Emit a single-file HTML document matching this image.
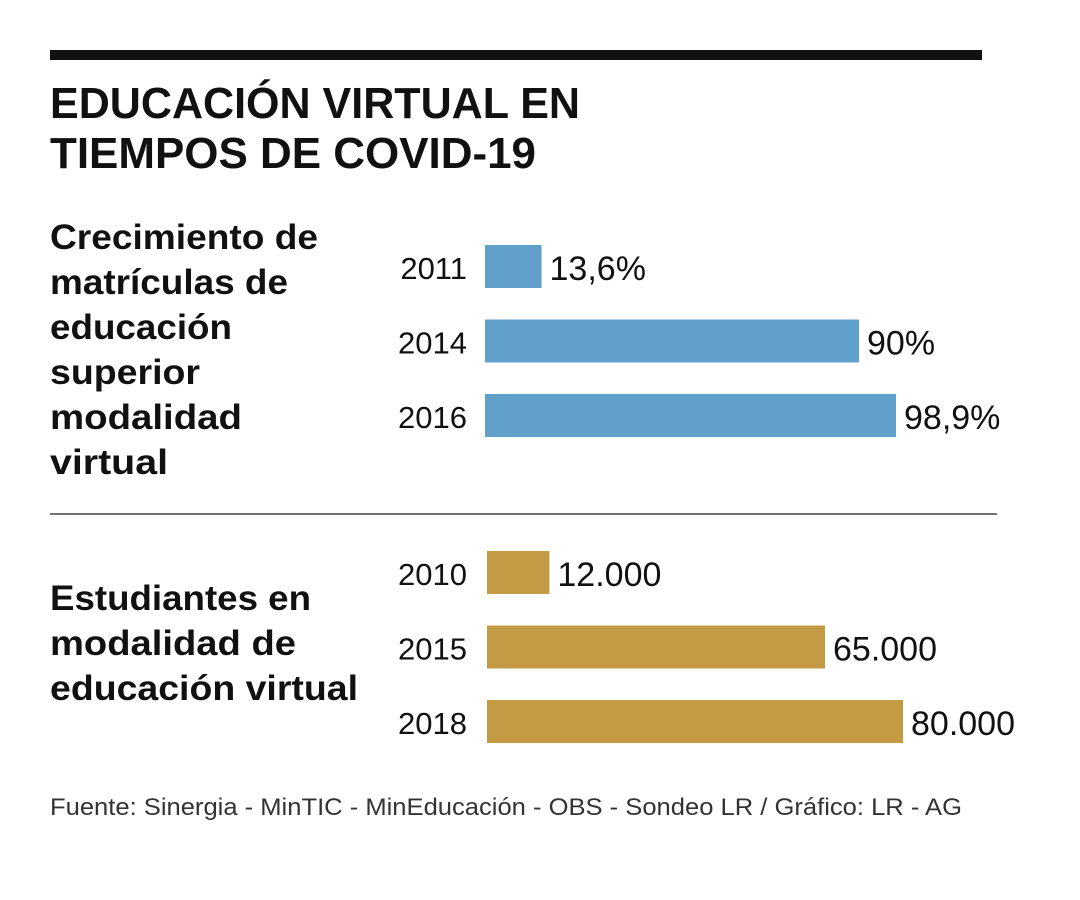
<!DOCTYPE html>
<html><head><meta charset="utf-8"><style>
html,body{margin:0;padding:0;background:#fff;}
svg{display:block;font-family:"Liberation Sans",sans-serif;}
</style></head><body>
<svg id="chart" width="1080" height="900" viewBox="0 0 1080 900">
<rect x="50" y="50" width="932" height="10" fill="#111"/>
<text x="50" y="118" font-size="44" font-weight="bold" fill="#111" textLength="530" lengthAdjust="spacingAndGlyphs">EDUCACIÓN VIRTUAL EN</text>
<text x="50" y="168" font-size="44" font-weight="bold" fill="#111" textLength="486" lengthAdjust="spacingAndGlyphs">TIEMPOS DE COVID-19</text>
<g font-size="35" font-weight="bold" fill="#111">
<text x="50" y="249" textLength="268" lengthAdjust="spacingAndGlyphs">Crecimiento de</text>
<text x="50" y="294" textLength="238" lengthAdjust="spacingAndGlyphs">matrículas de</text>
<text x="50" y="339" textLength="182" lengthAdjust="spacingAndGlyphs">educación</text>
<text x="50" y="384" textLength="150" lengthAdjust="spacingAndGlyphs">superior</text>
<text x="50" y="429" textLength="192" lengthAdjust="spacingAndGlyphs">modalidad</text>
<text x="50" y="474" textLength="118" lengthAdjust="spacingAndGlyphs">virtual</text>
</g>
<line x1="50" y1="514" x2="997" y2="514" stroke="#444" stroke-width="1.5"/>
<g font-size="35" font-weight="bold" fill="#111">
<text x="50" y="610" textLength="261" lengthAdjust="spacingAndGlyphs">Estudiantes en</text>
<text x="50" y="655" textLength="246" lengthAdjust="spacingAndGlyphs">modalidad de</text>
<text x="50" y="700" textLength="308" lengthAdjust="spacingAndGlyphs">educación virtual</text>
</g>
<g id="g1"></g><g id="g2"></g>
<text x="50" y="815" font-size="24" fill="#333" textLength="912" lengthAdjust="spacingAndGlyphs">Fuente: Sinergia - MinTIC - MinEducación - OBS - Sondeo LR / Gráfico: LR - AG</text>
</svg>
<script>
const years1 = ["2011","2014","2016"];
const values1 = [13.6, 90, 98.9];
const labels1 = ["13,6%","90%","98,9%"];
const years2 = ["2010","2015","2018"];
const values2 = [12000, 65000, 80000];
const labels2 = ["12.000","65.000","80.000"];
const NS="http://www.w3.org/2000/svg";
function draw(gid, years, values, labels, x0, yTop, scale, color, prefix){
  const g=document.getElementById(gid);
  years.forEach((y,i)=>{
    const top=yTop+i*74.5, w=values[i]*scale;
    const r=document.createElementNS(NS,"rect");
    r.setAttribute("x",x0);r.setAttribute("y",top);r.setAttribute("width",w);r.setAttribute("height",43);r.setAttribute("fill",color);
    
    
    g.appendChild(r);
    const t=document.createElementNS(NS,"text");
    t.setAttribute("x",467);t.setAttribute("y",top+34);t.setAttribute("text-anchor","end");t.setAttribute("font-size","31");t.setAttribute("fill","#111");
    t.textContent=y;
    
    
    g.appendChild(t);
    const v=document.createElementNS(NS,"text");
    v.setAttribute("x",x0+w+8);v.setAttribute("y",top+35);v.setAttribute("font-size","34");v.setAttribute("fill","#111");
    v.textContent=labels[i];
    
    
    g.appendChild(v);
  });
}
draw("g1",years1,values1,labels1,485,245,411/98.9,"#62a0cc","growth");
draw("g2",years2,values2,labels2,487,551,416/80000,"#c49a45","students");
</script>
</body></html>
